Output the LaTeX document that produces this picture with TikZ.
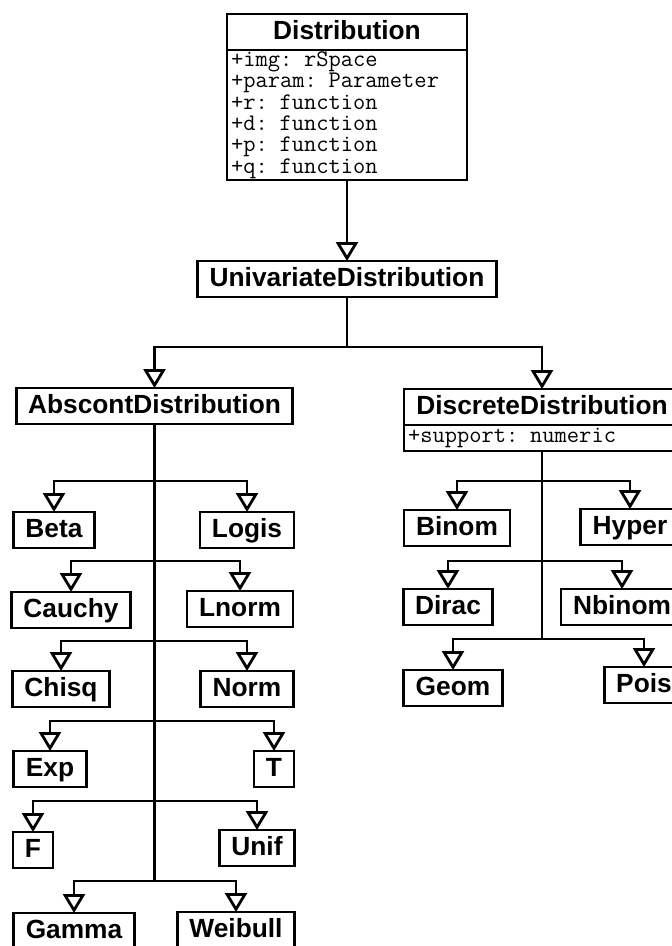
\documentclass[tikz,border=0pt]{standalone}
\usepackage{fontspec}
\setsansfont{Liberation Sans}
\usetikzlibrary{arrows.meta,positioning}

\begin{document}
\begin{tikzpicture}[x=1pt,y=-1pt,line width=2.8pt,
        gen/.style={-{Triangle[open,width=22pt,length=19pt]}},
        cls/.style={draw,outer sep=0pt,inner xsep=12pt,inner ysep=0pt,
          minimum height=36pt,text height=19pt,text depth=4pt,anchor=north,
          font=\sffamily\bfseries\fontsize{26.3}{30}\selectfont},
        attr/.style={draw,outer sep=0pt,inner xsep=4pt,inner ysep=1pt,align=left,
          font=\ttfamily\fontsize{23.8}{21.4}\selectfont}]
  \useasboundingbox (0,0) rectangle (672,946);

  \node[cls,minimum width=240pt] (dist) at (347,14) {Distribution};
  \node[attr,text width=232pt,minimum height=130pt] (distattr) [below=0pt of dist]
    {+img: rSpace\\+param: Parameter\\+r: function\\+d: function\\+p: function\\+q: function};
  \node[cls] (univ) at (347,261) {UnivariateDistribution};
  \node[cls] (abscont) at (154.5,388) {AbscontDistribution};
  \node[cls,minimum width=276pt] (discrete) at (542,389) {DiscreteDistribution};
  \node[attr,text width=268pt,minimum height=26pt] (discattr) [below=0pt of discrete]
    {+support: numeric};

  \node[cls] (beta) at (54,512) {Beta};
  \node[cls] (logis) at (247,512) {Logis};
  \node[cls] (cauchy) at (71,592) {Cauchy};
  \node[cls] (lnorm) at (240,591) {Lnorm};
  \node[cls] (chisq) at (61,671) {Chisq};
  \node[cls] (norm) at (247,671) {Norm};
  \node[cls] (exp) at (50,751) {Exp};
  \node[cls] (t) at (274,751) {T};
  \node[cls] (f) at (33,832) {F};
  \node[cls] (unif) at (257,830) {Unif};
  \node[cls] (gamma) at (74,913) {Gamma};
  \node[cls] (weibull) at (236,912) {Weibull};

  \node[cls] (binom) at (457,510) {Binom};
  \node[cls] (hyper) at (630,509) {Hyper};
  \node[cls] (dirac) at (448,589) {Dirac};
  \node[cls] (nbinom) at (622,589) {Nbinom};
  \node[cls] (geom) at (453,670) {Geom};
  \node[cls] (pois) at (644,667) {Pois};

  \coordinate (u) at (347,347);
  \coordinate (a1) at (154.5,481);
  \coordinate (a2) at (154.5,561);
  \coordinate (a3) at (154.5,641);
  \coordinate (a4) at (154.5,721);
  \coordinate (a5) at (154.5,801);
  \coordinate (a6) at (154.5,881);
  \coordinate (d1) at (542,481);
  \coordinate (d2) at (542,561);
  \coordinate (d3) at (542,639);

  \draw[gen] (distattr.south) -- (univ.north);
  \draw[gen] (univ.south) -- (u) -| (abscont.north);
  \draw[gen] (u) -| (discrete.north);

  \draw (abscont.south) -- (a6);
  \draw[gen] (a1) -| (beta.north);
  \draw[gen] (a1) -| (logis.north);
  \draw[gen] (a2) -| (cauchy.north);
  \draw[gen] (a2) -| (lnorm.north);
  \draw[gen] (a3) -| (chisq.north);
  \draw[gen] (a3) -| (norm.north);
  \draw[gen] (a4) -| (exp.north);
  \draw[gen] (a4) -| (t.north);
  \draw[gen] (a5) -| (f.north);
  \draw[gen] (a5) -| (unif.north);
  \draw[gen] (a6) -| (gamma.north);
  \draw[gen] (a6) -| (weibull.north);

  \draw (discattr.south) -- (d3);
  \draw[gen] (d1) -| (binom.north);
  \draw[gen] (d1) -| (hyper.north);
  \draw[gen] (d2) -| (dirac.north);
  \draw[gen] (d2) -| (nbinom.north);
  \draw[gen] (d3) -| (geom.north);
  \draw[gen] (d3) -| (pois.north);
\end{tikzpicture}
\end{document}
